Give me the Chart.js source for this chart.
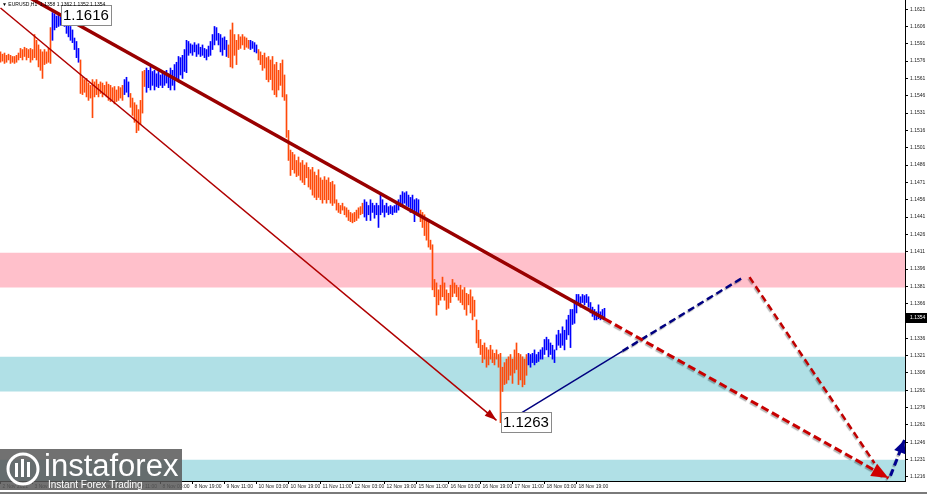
<!DOCTYPE html>
<html lang="en">
<head>
<meta charset="UTF-8">
<title>EURUSD H1</title>
<script src="https://cdn.jsdelivr.net/npm/chart.js"></script>
<style>
  html, body { margin: 0; padding: 0; background: #fff; overflow: hidden; }
</style>
</head>
<body>
<canvas id="chart" width="927" height="494"></canvas>
<script>
// hourly bars, index 0 = 2 Nov 19:00
const barHigh = [
  1.1584,1.1582,1.1583,1.1581,1.1582,1.1581,1.1580,1.1580,1.1581,1.1583,
  1.1587,1.1586,1.1588,1.1587,1.1586,1.1587,1.1586,1.1599,1.1594,1.1590,
  1.1586,1.1584,1.1586,1.1584,1.1587,1.1605,1.1618,1.1617,1.1615,1.1616,
  1.1614,1.1616,1.1615,1.1612,1.1610,1.1606,1.1603,1.1596,1.1593,1.1587,
  1.1577,1.1562,1.1560,1.1561,1.1557,1.1555,1.1560,1.1558,1.1560,1.1556,
  1.1558,1.1557,1.1555,1.1558,1.1556,1.1555,1.1553,1.1554,1.1551,1.1554,
  1.1553,1.1555,1.1560,1.1562,1.1558,1.1548,1.1544,1.1540,1.1538,1.1534,
  1.1542,1.1567,1.1568,1.1570,1.1568,1.1571,1.1567,1.1568,1.1565,1.1567,
  1.1564,1.1566,1.1567,1.1568,1.1565,1.1570,1.1568,1.1573,1.1575,1.1580,
  1.1579,1.1581,1.1586,1.1594,1.1593,1.1591,1.1590,1.1592,1.1590,1.1591,
  1.1588,1.1590,1.1587,1.1586,1.1589,1.1593,1.1599,1.1606,1.1605,1.1600,
  1.1599,1.1596,1.1597,1.1594,1.1590,1.1603,1.1609,1.1599,1.1594,1.1599,
  1.1597,1.1599,1.1597,1.1596,1.1594,1.1594,1.1593,1.1592,1.1590,1.1586,
  1.1584,1.1581,1.1583,1.1579,1.1580,1.1577,1.1580,1.1573,1.1575,1.1568,
  1.1574,1.1577,1.1564,1.1547,1.1516,1.1499,1.1497,1.1495,1.1490,1.1493,
  1.1488,1.1490,1.1486,1.1488,1.1484,1.1482,1.1484,1.1480,1.1477,1.1482,
  1.1475,1.1473,1.1476,1.1473,1.1475,1.1471,1.1472,1.1469,1.1456,1.1453,
  1.1451,1.1453,1.1450,1.1449,1.1447,1.1445,1.1444,1.1445,1.1447,1.1449,
  1.1450,1.1453,1.1456,1.1454,1.1451,1.1456,1.1453,1.1451,1.1453,1.1451,
  1.1460,1.1456,1.1451,1.1453,1.1450,1.1451,1.1450,1.1451,1.1453,1.1456,
  1.1460,1.1463,1.1462,1.1463,1.1460,1.1458,1.1460,1.1456,1.1457,1.1456,
  1.1447,1.1445,1.1443,1.1440,1.1438,1.1421,1.1417,1.1387,1.1384,1.1378,
  1.1382,1.1389,1.1384,1.1378,1.1375,1.1382,1.1387,1.1384,1.1382,1.1380,
  1.1382,1.1378,1.1380,1.1375,1.1374,1.1378,1.1372,1.1369,1.1352,1.1343,
  1.1335,1.1330,1.1332,1.1328,1.1326,1.1330,1.1326,1.1323,1.1326,1.1322,
  1.1323,1.1311,1.1315,1.1318,1.1320,1.1322,1.1318,1.1326,1.1332,1.1323,
  1.1322,1.1320,1.1318,1.1322,1.1323,1.1322,1.1323,1.1326,1.1322,1.1324,
  1.1326,1.1328,1.1335,1.1337,1.1335,1.1332,1.1330,1.1326,1.1339,1.1343,
  1.1340,1.1346,1.1343,1.1352,1.1356,1.1361,1.1361,1.1369,1.1374,1.1374,
  1.1372,1.1374,1.1373,1.1374,1.1372,1.1367,1.1363,1.1361,1.1359,1.1365,
  1.1359,1.1361,1.1362
];
const barLow = [
  1.1575,1.1576,1.1574,1.1575,1.1577,1.1574,1.1575,1.1574,1.1575,1.1577,
  1.1579,1.1577,1.1580,1.1577,1.1579,1.1575,1.1577,1.1579,1.1577,1.1571,
  1.1568,1.1561,1.1573,1.1574,1.1575,1.1574,1.1594,1.1603,1.1605,1.1606,
  1.1607,1.1607,1.1606,1.1600,1.1597,1.1594,1.1592,1.1586,1.1579,1.1575,
  1.1548,1.1547,1.1549,1.1545,1.1542,1.1544,1.1527,1.1545,1.1547,1.1545,
  1.1548,1.1545,1.1547,1.1545,1.1542,1.1541,1.1542,1.1539,1.1541,1.1542,
  1.1544,1.1542,1.1547,1.1549,1.1545,1.1536,1.1529,1.1523,1.1514,1.1516,
  1.1521,1.1531,1.1554,1.1549,1.1553,1.1551,1.1555,1.1551,1.1554,1.1553,
  1.1555,1.1553,1.1555,1.1557,1.1553,1.1551,1.1555,1.1551,1.1560,1.1558,
  1.1564,1.1561,1.1567,1.1566,1.1581,1.1583,1.1581,1.1584,1.1580,1.1582,
  1.1580,1.1581,1.1579,1.1577,1.1580,1.1581,1.1586,1.1590,1.1594,1.1590,
  1.1584,1.1581,1.1586,1.1580,1.1579,1.1571,1.1570,1.1581,1.1573,1.1586,
  1.1587,1.1590,1.1586,1.1588,1.1587,1.1586,1.1587,1.1584,1.1583,1.1577,
  1.1573,1.1568,1.1570,1.1560,1.1558,1.1560,1.1551,1.1547,1.1545,1.1551,
  1.1555,1.1545,1.1542,1.1510,1.1490,1.1477,1.1482,1.1479,1.1476,1.1477,
  1.1473,1.1471,1.1469,1.1475,1.1467,1.1465,1.1460,1.1458,1.1456,1.1458,
  1.1456,1.1453,1.1456,1.1453,1.1456,1.1453,1.1451,1.1453,1.1447,1.1445,
  1.1444,1.1447,1.1443,1.1441,1.1438,1.1437,1.1436,1.1437,1.1438,1.1440,
  1.1443,1.1444,1.1441,1.1438,1.1443,1.1438,1.1445,1.1440,1.1443,1.1432,
  1.1443,1.1445,1.1441,1.1445,1.1443,1.1444,1.1443,1.1445,1.1445,1.1447,
  1.1450,1.1451,1.1453,1.1451,1.1450,1.1445,1.1447,1.1437,1.1445,1.1444,
  1.1437,1.1432,1.1425,1.1421,1.1415,1.1413,1.1378,1.1372,1.1356,1.1365,
  1.1369,1.1372,1.1369,1.1361,1.1362,1.1367,1.1372,1.1375,1.1372,1.1369,
  1.1367,1.1365,1.1361,1.1356,1.1365,1.1358,1.1352,1.1355,1.1332,1.1328,
  1.1322,1.1315,1.1318,1.1311,1.1313,1.1318,1.1315,1.1313,1.1318,1.1311,
  1.1263,1.1290,1.1296,1.1297,1.1300,1.1304,1.1297,1.1306,1.1309,1.1296,
  1.1300,1.1294,1.1296,1.1304,1.1313,1.1311,1.1315,1.1313,1.1315,1.1316,
  1.1318,1.1318,1.1322,1.1326,1.1320,1.1322,1.1318,1.1315,1.1326,1.1330,
  1.1328,1.1330,1.1326,1.1335,1.1339,1.1328,1.1348,1.1349,1.1358,1.1365,
  1.1363,1.1367,1.1365,1.1367,1.1363,1.1358,1.1355,1.1352,1.1352,1.1353,
  1.1352,1.1353,1.1352
];
// wave colouring: first bar of each leg
const legStart = [0, 26, 40, 62, 65, 73, 114, 125, 129, 182, 210, 264];
const legDir   = ['down','up','down','up','down','up','down','up','down','up','down','up'];
const lastQuote = [1.1358, 1.1362, 1.1352, 1.1354];

const xTickBars = [0,16,32,48,64,80,96,112,128,144,160,176,192,208,224,240,256,272,288];
const xTickLabels = ['2 Nov 2021','3 Nov 11:00','4 Nov 03:00','4 Nov 19:00','5 Nov 11:00',
  '8 Nov 03:00','8 Nov 19:00','9 Nov 11:00','10 Nov 03:00','10 Nov 19:00','11 Nov 11:00',
  '12 Nov 03:00','12 Nov 19:00','15 Nov 11:00','16 Nov 03:00','16 Nov 19:00','17 Nov 11:00',
  '18 Nov 03:00','18 Nov 19:00'];
const yTickLabels = ['1.1216','1.1231','1.1246','1.1261','1.1276','1.1291','1.1306','1.1321',
  '1.1336','1.1351','1.1366','1.1381','1.1396','1.1411','1.1426','1.1441','1.1456','1.1471',
  '1.1486','1.1501','1.1516','1.1531','1.1546','1.1561','1.1576','1.1591','1.1606','1.1621'];

// zones
const zoneTop    = [1.1410, 1.1320, 1.1231];
const zoneBottom = [1.1380, 1.1290, 1.1200];
const zoneColor  = ['#ffc0cb', '#b0e0e6', '#b0e0e6'];

// drawn lines (bar index, price)
const trendSolid = [{x:0, y:1.1645}, {x:302, y:1.1353}];
const trendDash  = [{x:302, y:1.1353}, {x:444, y:1.1215}];
const thinArrow  = [{x:0, y:1.1622}, {x:248, y:1.1265}];
const navySolid  = [{x:252.5, y:1.1263}, {x:311, y:1.1325}];
const navyDash   = [{x:311, y:1.1325}, {x:371.5, y:1.1389}];
const redSteep   = [{x:374.5, y:1.1389}, {x:437, y:1.1228}];
const navyArrow  = [{x:445, y:1.1217}, {x:452, y:1.1248}];

const noteText  = ['1.1616', '1.1263'];
const noteBar   = [30, 250.5];
const notePrice = [1.1625, 1.1272];

const X_MIN = -0.25, X_MAX = 452.25, Y_MIN = 1.12125, Y_MAX = 1.16289;
const FONT = '"Liberation Sans", Arial, sans-serif';

const barColors = barHigh.map((h, i) => {
  let k = 0;
  while (k + 1 < legStart.length && legStart[k + 1] <= i) k++;
  return legDir[k] === 'up' ? '#0000ff' : '#ff4a0a';
});

function lineSet(pts, color, width, dash, extra) {
  return Object.assign({
    type: 'line', data: pts, borderColor: color, borderWidth: width,
    borderDash: dash || [], pointRadius: 0, fill: false, tension: 0, order: 1
  }, extra || {});
}

const datasets = [];
zoneTop.forEach((t, k) => {
  datasets.push({
    type: 'line', data: [{x: X_MIN, y: t}, {x: X_MAX, y: t}],
    borderWidth: 0, pointRadius: 0, backgroundColor: zoneColor[k],
    fill: {value: zoneBottom[k]}, order: 3
  });
});
datasets.push({
  type: 'bar',
  data: barHigh.map((h, i) => ({x: i, y: [barLow[i], h]})),
  backgroundColor: barColors, barThickness: 1, borderWidth: 0, order: 2
});
datasets.push(lineSet(thinArrow, '#b00000', 1.5, null, {arrow: {len: 12, wid: 4, color: '#b00000'}}));
datasets.push(lineSet(trendSolid, '#990000', 3.5));
datasets.push(lineSet(trendDash, '#c80000', 3, [8, 4], {shadow: true, arrow: {len: 17, wid: 7, color: '#d00000'}}));
datasets.push(lineSet(navySolid, '#000080', 1.5));
datasets.push(lineSet(navyDash, '#000080', 2.5, [7, 4], {shadow: true}));
datasets.push(lineSet(redSteep, '#c00000', 2.5, [7, 4], {shadow: true}));
datasets.push(lineSet(navyArrow, '#000090', 3, [7, 4], {shadow: true, arrow: {len: 13, wid: 6, color: '#000090'}}));

const overlay = {
  id: 'overlay',
  beforeDatasetDraw(chart, args) {
    if (chart.data.datasets[args.index].shadow) {
      const c = chart.ctx;
      c.save();
      c.shadowColor = 'rgba(0,0,0,0.3)';
      c.shadowOffsetX = -1;
      c.shadowOffsetY = 1.5;
      c.shadowBlur = 1;
    }
  },
  afterDatasetDraw(chart, args) {
    if (chart.data.datasets[args.index].shadow) chart.ctx.restore();
  },
  afterDatasetsDraw(chart) {
    const ctx = chart.ctx, xs = chart.scales.x, ys = chart.scales.y;
    // arrow heads at the end of drawn lines
    chart.data.datasets.forEach((ds, i) => {
      if (!ds.arrow) return;
      const pts = chart.getDatasetMeta(i).data;
      const a = pts[pts.length - 2], b = pts[pts.length - 1];
      const ang = Math.atan2(b.y - a.y, b.x - a.x);
      const bx = b.x - ds.arrow.len * Math.cos(ang), by = b.y - ds.arrow.len * Math.sin(ang);
      const nx = -Math.sin(ang) * ds.arrow.wid, ny = Math.cos(ang) * ds.arrow.wid;
      ctx.save();
      ctx.fillStyle = ds.arrow.color;
      ctx.beginPath();
      ctx.moveTo(b.x, b.y);
      ctx.lineTo(bx + nx, by + ny);
      ctx.lineTo(bx - nx, by - ny);
      ctx.closePath();
      ctx.fill();
      ctx.restore();
    });
    // price notes
    ctx.save();
    ctx.font = '15px ' + FONT;
    noteText.forEach((t, k) => {
      const px = Math.round(xs.getPixelForValue(noteBar[k]));
      const py = Math.round(ys.getPixelForValue(notePrice[k]));
      const w = Math.ceil(ctx.measureText(t).width) + 4;
      ctx.fillStyle = '#fff';
      ctx.fillRect(px, py, w, 20);
      ctx.strokeStyle = '#8a8a8a';
      ctx.lineWidth = 1;
      ctx.strokeRect(px + 0.5, py + 0.5, w, 20);
      ctx.fillStyle = '#000';
      ctx.textBaseline = 'middle';
      ctx.fillText(t, px + 2, py + 11);
    });
    ctx.restore();
  },
  afterDraw(chart) {
    const ctx = chart.ctx, xs = chart.scales.x, ys = chart.scales.y;
    ctx.save();
    // current price marker
    const py = Math.round(ys.getPixelForValue(lastQuote[3]));
    ctx.fillStyle = '#000';
    ctx.fillRect(xs.right + 1, py - 5, 21, 10);
    ctx.fillStyle = '#fff';
    ctx.font = '5px ' + FONT;
    ctx.textBaseline = 'middle';
    ctx.fillText(lastQuote[3].toFixed(4), xs.right + 5, py);
    // symbol line
    ctx.fillStyle = '#000';
    ctx.fillText('\u25BC EURUSD,H1  ' + lastQuote.map(v => v.toFixed(4)).join(' '), 2, 5);
    // logo
    ctx.fillStyle = 'rgba(88,88,88,0.85)';
    ctx.fillRect(0, 449, 182, 41);
    ctx.strokeStyle = '#fff';
    ctx.lineWidth = 3;
    ctx.beginPath();
    ctx.arc(23, 469, 15, 0, Math.PI * 2);
    ctx.stroke();
    ctx.fillStyle = '#fff';
    ctx.fillRect(15, 463, 3, 14);
    ctx.fillRect(21, 459, 3, 18);
    ctx.fillRect(27, 462, 3, 15);
    ctx.font = '31px ' + FONT;
    ctx.textBaseline = 'alphabetic';
    ctx.fillText('instaforex', 44, 476);
    ctx.font = '10px ' + FONT;
    ctx.fillText('Instant Forex Trading', 48, 488);
    ctx.fillStyle = '#7a7a7a';
    ctx.fillRect(0, 492, 927, 2);
    ctx.restore();
  }
};

new Chart(document.getElementById('chart'), {
  type: 'bar',
  data: {datasets},
  plugins: [overlay],
  options: {
    responsive: false,
    animation: false,
    devicePixelRatio: 1,
    layout: {padding: 0},
    plugins: {legend: {display: false}, tooltip: {enabled: false}},
    scales: {
      x: {
        type: 'linear', position: 'bottom', min: X_MIN, max: X_MAX,
        offset: false,
        grid: {offset: false, drawOnChartArea: false, drawTicks: true, tickLength: 3, color: '#000'},
        border: {display: true, color: '#000', width: 1},
        afterBuildTicks: s => { s.ticks = xTickBars.map(v => ({value: v})); },
        afterFit: s => { s.height = 13; s.paddingLeft = 0; s.paddingRight = 0; },
        ticks: {
          autoSkip: false, maxRotation: 0, minRotation: 0, align: 'start', labelOffset: 2, padding: 0,
          font: {size: 5, family: FONT}, color: '#222',
          callback: v => xTickLabels[xTickBars.indexOf(v)]
        }
      },
      y: {
        type: 'linear', position: 'right', min: Y_MIN, max: Y_MAX,
        grid: {drawOnChartArea: false, drawTicks: true, tickLength: 3, color: '#000'},
        border: {display: true, color: '#000', width: 1},
        afterBuildTicks: s => { s.ticks = yTickLabels.map(t => ({value: parseFloat(t)})); },
        afterFit: s => { s.width = 22; s.paddingTop = 0; s.paddingBottom = 0; },
        ticks: {
          autoSkip: false, padding: 2,
          font: {size: 5, family: FONT}, color: '#222',
          callback: (v, i) => yTickLabels[i]
        }
      }
    }
  }
});
</script>
</body>
</html>
